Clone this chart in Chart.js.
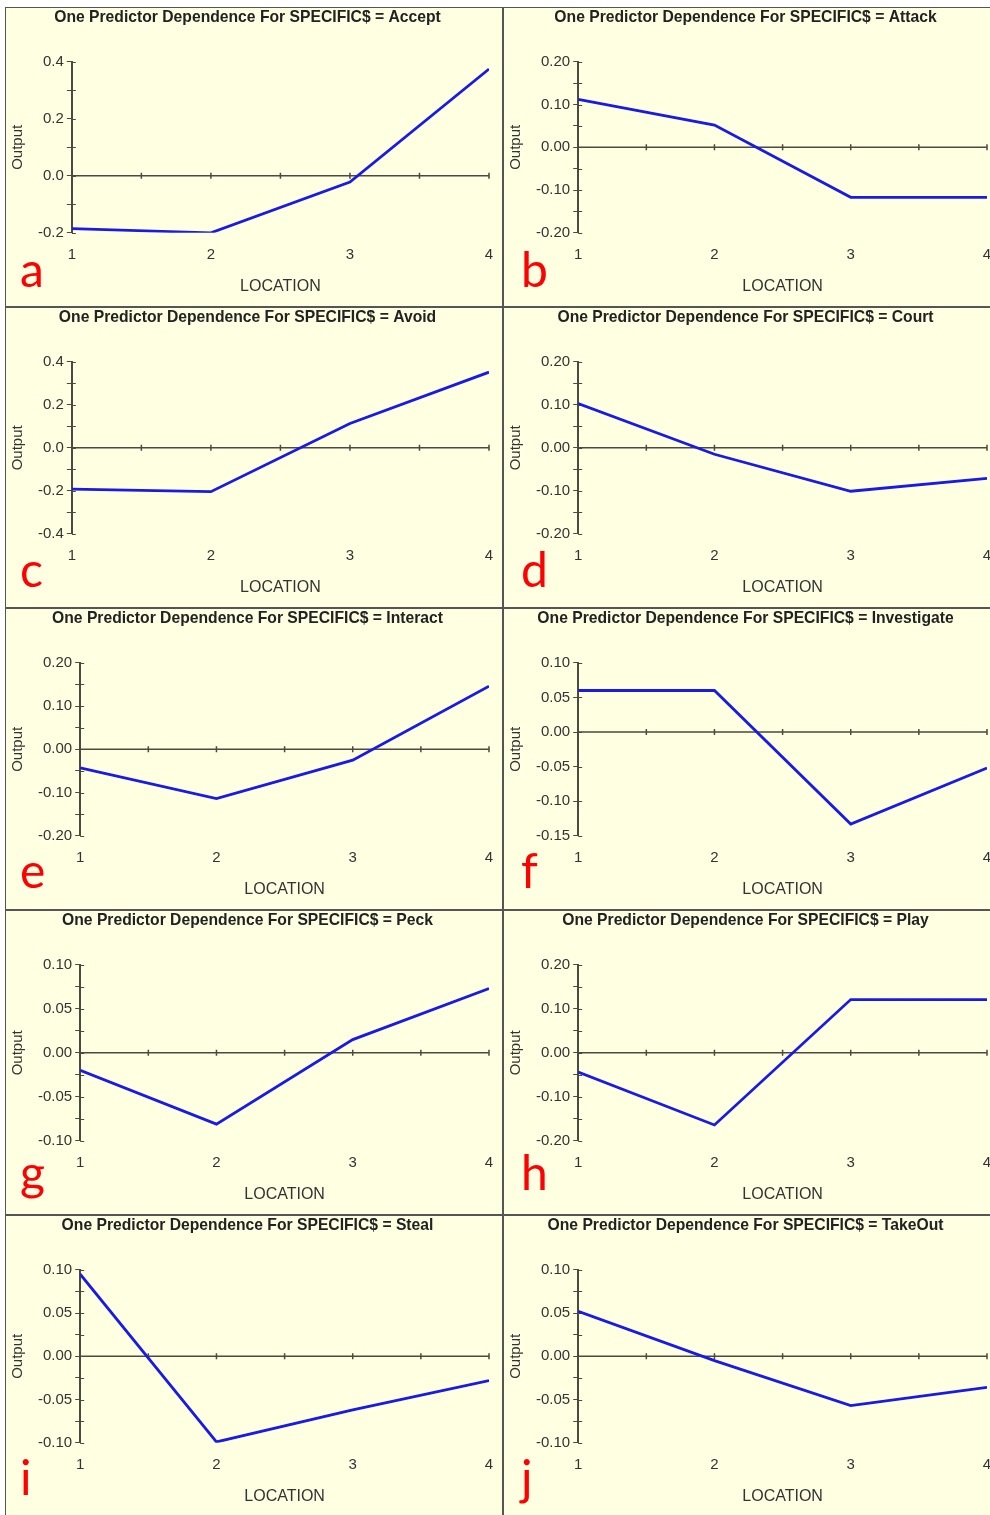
<!DOCTYPE html>
<html>
<head>
    <title>One Predictor Dependence For SPECIFIC$</title>
    <script src="https://cdn.jsdelivr.net/npm/chart.js"></script>
    <style>
        body {
            margin: 0;
            width: 990px;
            height: 1515px;
            overflow: hidden;
            position: relative;
            background: #fff;
        }

        .panel {
            position: absolute;
            box-sizing: border-box;
            border: 1px solid #555;
            background: #ffffe1;
        }

        .panel canvas {
            display: block;
        }

        .tag {
            position: absolute;
            color: #ff0000;
            font-family: Lato, "Noto Sans", sans-serif;
            font-size: 48px;
            line-height: 48px;
        }
    </style>
</head>
<body>
    <script>
        // x positions (LOCATION) shared by every panel
        const locations = [1, 2, 3, 4];

        // one series per SPECIFIC$ value
        const accept      = [-0.185, -0.200, -0.022, 0.375];
        const attack      = [0.112, 0.052, -0.117, -0.117];
        const avoid       = [-0.192, -0.204, 0.113, 0.352];
        const court       = [0.103, -0.015, -0.101, -0.071];
        const interact    = [-0.043, -0.114, -0.025, 0.146];
        const investigate = [0.060, 0.060, -0.133, -0.052];
        const peck        = [-0.020, -0.081, 0.015, 0.073];
        const play        = [-0.044, -0.164, 0.121, 0.121];
        const steal       = [0.095, -0.099, -0.062, -0.028];
        const takeOut     = [0.052, -0.005, -0.057, -0.036];

        const behaviours = ['Accept', 'Attack', 'Avoid', 'Court', 'Interact',
                            'Investigate', 'Peck', 'Play', 'Steal', 'TakeOut'];
        const series = [accept, attack, avoid, court, interact,
                        investigate, peck, play, steal, takeOut];
        const panelTags = ['a', 'b', 'c', 'd', 'e', 'f', 'g', 'h', 'i', 'j'];

        // y axis ranges and labelled tick step for each panel
        const yMins      = [-0.2, -0.2, -0.4, -0.2, -0.2, -0.15, -0.1, -0.2, -0.1, -0.1];
        const yMaxs      = [0.4, 0.2, 0.4, 0.2, 0.2, 0.1, 0.1, 0.2, 0.1, 0.1];
        const yLabelStep = [0.2, 0.1, 0.2, 0.1, 0.1, 0.05, 0.05, 0.1, 0.05, 0.05];
        const yDecimals  = [1, 2, 1, 2, 2, 2, 2, 2, 2, 2];

        // page layout
        const colLeft = [5, 503];
        const rowTop = [7, 307, 608, 910, 1215];
        const rowHeight = [300, 301, 302, 305, 302];
        const panelWidth = 498;

        const axisColor = '#4a4a40';

        // zero line with half-unit ticks, and the inner half of the y ticks
        const crossMarks = {
            id: 'crossMarks',
            beforeDatasetsDraw(chart) {
                const { ctx, chartArea, scales } = chart;
                const x = scales.x, y = scales.y;
                const y0 = y.getPixelForValue(0);
                ctx.save();
                ctx.strokeStyle = axisColor;
                ctx.lineWidth = 1.5;
                ctx.beginPath();
                ctx.moveTo(chartArea.left, y0);
                ctx.lineTo(chartArea.right, y0);
                for (let v = 1.5; v <= 4; v += 0.5) {
                    const px = x.getPixelForValue(v);
                    ctx.moveTo(px, y0 - 3);
                    ctx.lineTo(px, y0 + 3);
                }
                ctx.stroke();
                ctx.lineWidth = 1;
                ctx.beginPath();
                y.ticks.forEach(t => {
                    const py = Math.round(y.getPixelForValue(t.value)) + 0.5;
                    ctx.moveTo(chartArea.left, py);
                    ctx.lineTo(chartArea.left + 4, py);
                });
                ctx.stroke();
                ctx.restore();
            }
        };

        behaviours.forEach((name, i) => {
            const row = Math.floor(i / 2);
            const col = i % 2;

            const panel = document.createElement('div');
            panel.className = 'panel';
            panel.style.left = colLeft[col] + 'px';
            panel.style.top = rowTop[row] + 'px';
            panel.style.width = panelWidth + 'px';
            panel.style.height = rowHeight[row] + 'px';

            const canvas = document.createElement('canvas');
            canvas.width = panelWidth - 2;
            canvas.height = rowHeight[row] - 2;
            panel.appendChild(canvas);
            document.body.appendChild(panel);

            const tag = document.createElement('div');
            tag.className = 'tag';
            tag.textContent = panelTags[i];
            tag.style.left = (colLeft[col] + (col === 0 ? 15 : 18)) + 'px';
            tag.style.top = (rowTop[row] + 284 - 46) + 'px';
            document.body.appendChild(tag);

            const step = yLabelStep[i];
            const dec = yDecimals[i];

            new Chart(canvas, {
                type: 'line',
                data: {
                    datasets: [{
                        data: locations.map((loc, k) => ({ x: loc, y: series[i][k] })),
                        borderColor: '#1a1ae8',
                        borderWidth: 2.8,
                        pointRadius: 0,
                        tension: 0,
                        fill: false
                    }]
                },
                options: {
                    responsive: false,
                    animation: false,
                    events: [],
                    layout: {
                        padding: { left: 0, right: 13, top: 0, bottom: 0 }
                    },
                    plugins: {
                        legend: { display: false },
                        tooltip: { enabled: false },
                        title: {
                            display: true,
                            text: 'One Predictor Dependence For SPECIFIC$ = ' + name,
                            color: '#222',
                            font: { family: 'Liberation Sans', size: 15.7, weight: 'bold' },
                            padding: { top: 0, bottom: 35 }
                        }
                    },
                    scales: {
                        x: {
                            type: 'linear',
                            min: 1,
                            max: 4,
                            grid: { display: false, drawTicks: false },
                            border: { display: false },
                            ticks: {
                                stepSize: 1,
                                padding: 13,
                                maxRotation: 0,
                                color: '#333',
                                font: { family: 'Liberation Sans', size: 15 }
                            },
                            // the "4" label only needs its own half width
                            afterFit: s => { s.paddingRight = 4; },
                            title: {
                                display: true,
                                text: 'LOCATION',
                                color: '#333',
                                font: { family: 'Liberation Sans', size: 16 },
                                padding: { top: 0, bottom: 10 }
                            }
                        },
                        y: {
                            min: yMins[i],
                            max: yMaxs[i],
                            grid: {
                                drawOnChartArea: false,
                                drawTicks: true,
                                tickLength: 5,
                                color: axisColor
                            },
                            border: { display: true, color: axisColor, width: 2 },
                            ticks: {
                                stepSize: step / 2,
                                padding: 3,
                                color: '#333',
                                font: { family: 'Liberation Sans', size: 15 },
                                callback: v => {
                                    const r = v / step;
                                    return Math.abs(r - Math.round(r)) < 1e-6 ? v.toFixed(dec) : '';
                                }
                            },
                            title: {
                                display: true,
                                text: 'Output',
                                color: '#333',
                                font: { family: 'Liberation Sans', size: 15 },
                                padding: { top: 3, bottom: 8 }
                            }
                        }
                    }
                },
                plugins: [crossMarks]
            });
        });
    </script>
</body>
</html>
